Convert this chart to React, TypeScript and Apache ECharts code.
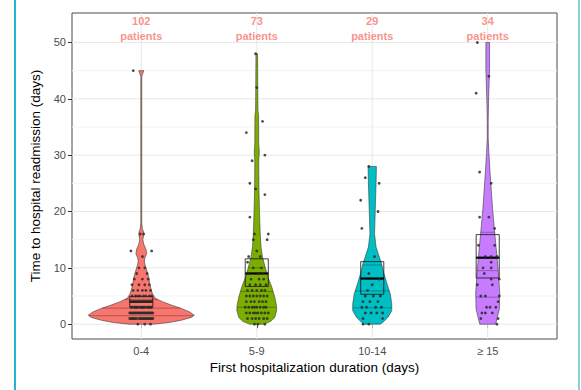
import React, { useEffect, useRef } from "react";
import * as echarts from "echarts";

const categories = ["0-4", "5-9", "10-14", "≥ 15"];
const patientCounts = [102, 73, 29, 34];
const yTicks = [0, 10, 20, 30, 40, 50];
const yMinorGrid = [5, 15, 25, 35, 45];
const fillColors = ["#F8766D", "#7CAE00", "#00BFC4", "#C77CFF"];

// violin half-width profiles: [days, half-width in category units]
const violin0_4 = [
  [0, 0.104], [0.3, 0.242], [0.7, 0.346], [1.2, 0.433], [1.6, 0.459], [2.2, 0.416],
  [2.8, 0.346], [3.4, 0.26], [4.0, 0.182], [4.6, 0.121], [5.5, 0.095], [7, 0.074],
  [8.3, 0.065], [9.5, 0.048], [10.5, 0.033], [11.2, 0.026], [11.8, 0.032], [12.5, 0.046],
  [13.2, 0.042], [14.2, 0.022], [15, 0.013], [15.7, 0.02], [16.3, 0.02], [17, 0.009],
  [18, 0.004], [44, 0.004], [44.5, 0.013], [45, 0.022],
];
const violin5_9 = [
  [0, 0.061], [0.5, 0.121], [1.2, 0.156], [2.5, 0.173], [3.5, 0.169], [4.8, 0.156],
  [6.6, 0.13], [8.3, 0.098], [10, 0.074], [12, 0.049], [13.7, 0.037], [16, 0.03],
  [19.6, 0.024], [23.7, 0.019], [29, 0.017], [30.5, 0.022], [32, 0.017], [37, 0.016],
  [38, 0.01], [48, 0.007],
];
const violin10_14 = [
  [0, 0.069], [0.35, 0.094], [1.25, 0.137], [2.4, 0.169], [3.6, 0.169], [5.4, 0.156],
  [7.2, 0.127], [9.0, 0.101], [10.7, 0.081], [12.5, 0.052], [13.7, 0.033], [16, 0.02],
  [20.2, 0.026], [24.9, 0.033], [28, 0.036],
];
const violin15 = [
  [0, 0.069], [1, 0.081], [2.7, 0.101], [5.7, 0.104], [8.7, 0.094], [11.6, 0.082],
  [14.6, 0.068], [17.5, 0.055], [20.5, 0.042], [23.4, 0.032], [26.4, 0.022], [30.5, 0.01],
  [33, 0.004], [36, 0.004], [39.4, 0.007], [45.4, 0.016], [50, 0.016],
];

// violin quartile lines (days)
const quartiles0_4 = [1.5, 2.85, 4.4];
const quartiles5_9 = [3.0, 5.8, 10.0];
const quartiles10_14 = [2.9, 5.9, 10.5];
const quartiles15 = [4.8, 9.5, 16.3];

// mean and 95% CI: [low, mean, high]
const meanCI0_4 = [3.1, 4.0, 4.9];
const meanCI5_9 = [6.7, 9.0, 11.6];
const meanCI10_14 = [5.3, 8.1, 11.1];
const meanCI15 = [8.2, 11.8, 15.9];

// individual patients: [horizontal jitter in hundredths of a category, days]
const points0_4 = [
  [-3, 0], [3, 0], [8, 0],
  [-10, 1], [-9, 1], [-7, 1], [-6, 1], [-5, 1], [-4, 1], [-2, 1], [-1, 1], [0, 1], [1, 1],
  [2, 1], [3, 1], [4, 1], [5, 1], [6, 1], [7, 1], [8, 1], [9, 1], [10, 1], [-8, 1],
  [-10, 2], [-9, 2], [-8, 2], [-7, 2], [-6, 2], [-5, 2], [-4, 2], [-3, 2], [-2, 2], [-1, 2],
  [0, 2], [1, 2], [2, 2], [3, 2], [4, 2], [5, 2], [6, 2], [7, 2], [8, 2], [9, 2], [10, 2],
  [-9, 3], [-8, 3], [-6, 3], [-5, 3], [-4, 3], [-3, 3], [-1, 3], [0, 3], [1, 3], [2, 3],
  [3, 3], [5, 3], [6, 3], [7, 3], [8, 3], [9, 3],
  [-9, 4], [-7, 4], [-5, 4], [-3, 4], [-1, 4], [0, 4], [2, 4], [3, 4], [5, 4], [6, 4], [8, 4], [9, 4],
  [-8, 5], [-5, 5], [-3, 5], [-1, 5], [2, 5], [4, 5], [7, 5], [9, 5],
  [-7, 6], [-3, 6], [1, 6], [4, 6], [8, 6],
  [-8, 7], [-2, 7], [3, 7], [7, 7],
  [-6, 8], [1, 8], [6, 8],
  [-4, 9], [5, 9],
  [-2, 10], [3, 10],
  [1, 12],
  [-9, 13], [9, 13],
  [-1, 16], [2, 16],
  [-7, 45],
];
const points5_9 = [
  [-2, 0], [1, 0], [7, 0],
  [-8, 1], [-4, 1], [-1, 1], [2, 1], [6, 1], [9, 1],
  [-9, 2], [-6, 2], [-3, 2], [-1, 2], [1, 2], [4, 2], [7, 2], [10, 2],
  [-10, 3], [-7, 3], [-4, 3], [-2, 3], [0, 3], [3, 3], [6, 3], [8, 3],
  [-9, 4], [-5, 4], [-2, 4], [2, 4], [5, 4], [8, 4],
  [-9, 5], [-6, 5], [-3, 5], [0, 5], [3, 5], [6, 5], [9, 5],
  [-8, 6], [-4, 6], [0, 6], [4, 6], [7, 6],
  [-6, 7], [-1, 7], [3, 7], [8, 7],
  [-5, 8], [2, 8], [6, 8],
  [-7, 9], [1, 9], [5, 9],
  [-3, 10], [4, 10],
  [-8, 11],
  [-7, 12], [3, 12],
  [0, 13],
  [-3, 15], [9, 15],
  [-2, 16], [10, 16],
  [-6, 19], [7, 23], [-1, 24], [-6, 25], [-4, 29], [7, 30], [-9, 34], [5, 36], [0, 42], [-1, 48],
];
const points10_14 = [
  [-8, 0], [-3, 0],
  [-8, 1], [9, 1],
  [-6, 2], [-1, 2], [4, 2], [9, 2],
  [-9, 3], [-5, 3], [3, 3], [8, 3],
  [-8, 4], [-2, 4], [5, 4],
  [-6, 5], [1, 5], [7, 5],
  [-4, 6], [0, 7], [6, 8], [-3, 9], [2, 12],
  [-9, 17], [5, 20], [-10, 22], [6, 25], [-6, 26], [-3, 28],
];
const points15 = [
  [8, 0],
  [-6, 1], [9, 1],
  [-5, 2], [-2, 2], [4, 2],
  [-1, 3], [2, 3], [7, 3],
  [9, 4],
  [-6, 5], [-2, 5], [10, 5],
  [-9, 7], [4, 7],
  [3, 8], [10, 8],
  [-3, 9],
  [-4, 10], [3, 10],
  [3, 11],
  [-2, 12], [3, 12], [8, 12],
  [-8, 14], [6, 14],
  [6, 17],
  [-7, 19], [1, 19],
  [3, 25], [-7, 27], [-10, 41], [1, 44], [-9, 50],
];

const profiles = [violin0_4, violin5_9, violin10_14, violin15];
const quartiles = [quartiles0_4, quartiles5_9, quartiles10_14, quartiles15];
const meanCIs = [meanCI0_4, meanCI5_9, meanCI10_14, meanCI15];
const pointGroups = [points0_4, points5_9, points10_14, points15];

const FONT = "'Liberation Sans', Arial, sans-serif";

function halfWidthAt(prof: number[][], v: number): number {
  for (let i = 0; i < prof.length - 1; i++) {
    const [v0, w0] = prof[i];
    const [v1, w1] = prof[i + 1];
    if (v >= v0 && v <= v1) return w0 + ((w1 - w0) * (v - v0)) / (v1 - v0);
  }
  return 0;
}

export default function App() {
  const ref = useRef<HTMLDivElement>(null);
  useEffect(() => {
    document.body.style.margin = "0";
    if (!ref.current) return;
    const chart = echarts.init(ref.current, undefined, { renderer: "svg" });

    const scatterData: number[][] = [];
    pointGroups.forEach((pts, g) => {
      pts.forEach(([j, d]) => scatterData.push([g + 1 + j / 100, d]));
    });

    const option: any = {
      animation: false,
      backgroundColor: "#ffffff",
      textStyle: { fontFamily: FONT },
      grid: {
        left: 72,
        right: 24,
        top: 13,
        bottom: 51,
        show: true,
        borderColor: "#4d4d4d",
        borderWidth: 1,
        backgroundColor: "transparent",
      },
      graphic: [
        { type: "rect", left: 14, top: 0, shape: { width: 2, height: 390 }, style: { fill: "#22B4D4" }, z: 10 },
        { type: "rect", left: 578, top: 0, shape: { width: 2, height: 390 }, style: { fill: "#82D4DC" }, z: 10 },
      ],
      xAxis: {
        type: "value",
        min: 0.4,
        max: 4.6,
        name: "First hospitalization duration (days)",
        nameLocation: "middle",
        nameGap: 20,
        nameTextStyle: { color: "#000", fontSize: 13.5, fontFamily: FONT },
        axisLine: { show: false },
        axisTick: { show: true, customValues: [1, 2, 3, 4], length: 4, lineStyle: { color: "#333" } },
        axisLabel: {
          customValues: [1, 2, 3, 4],
          formatter: (v: number) => categories[Math.round(v) - 1] ?? "",
          color: "#4d4d4d",
          fontSize: 11,
          margin: 6,
          fontFamily: FONT,
        },
        splitLine: { show: false },
      },
      yAxis: {
        type: "value",
        min: -2.63,
        max: 55.23,
        name: "Time to hospital readmission (days)",
        nameLocation: "middle",
        nameGap: 21,
        nameTextStyle: { color: "#000", fontSize: 13.5, fontFamily: FONT },
        axisLine: { show: false },
        axisTick: { show: true, customValues: yTicks, length: 4, lineStyle: { color: "#333" } },
        axisLabel: {
          customValues: yTicks,
          color: "#4d4d4d",
          fontSize: 11,
          margin: 6,
          fontFamily: FONT,
        },
        splitLine: { show: false },
      },
      series: [
        {
          type: "custom",
          z: 1,
          silent: true,
          data: [[2.5, 25]],
          renderItem: (params: any, api: any) => {
            const cs = params.coordSys;
            const children: any[] = [];
            yMinorGrid.forEach((v) => {
              const p = api.coord([1, v]);
              children.push({
                type: "line",
                shape: { x1: cs.x, y1: p[1], x2: cs.x + cs.width, y2: p[1] },
                style: { stroke: "#F3F3F3", lineWidth: 1 },
              });
            });
            yTicks.forEach((v) => {
              const p = api.coord([1, v]);
              children.push({
                type: "line",
                shape: { x1: cs.x, y1: p[1], x2: cs.x + cs.width, y2: p[1] },
                style: { stroke: "#E8E8E8", lineWidth: 1 },
              });
            });
            [1, 2, 3, 4].forEach((c) => {
              const p = api.coord([c, 0]);
              children.push({
                type: "line",
                shape: { x1: p[0], y1: cs.y, x2: p[0], y2: cs.y + cs.height },
                style: { stroke: "#E8E8E8", lineWidth: 1 },
              });
            });
            return { type: "group", children };
          },
        },
        {
          type: "custom",
          z: 2,
          silent: true,
          data: [[1, 0], [2, 0], [3, 0], [4, 0]],
          renderItem: (params: any, api: any) => {
            const cx = api.value(0) as number;
            const g = Math.round(cx) - 1;
            const prof = profiles[g];
            const pts: number[][] = [];
            prof.forEach(([v, w]) => pts.push(api.coord([cx + w, v])));
            for (let i = prof.length - 1; i >= 0; i--) pts.push(api.coord([cx - prof[i][1], prof[i][0]]));
            const children: any[] = [
              {
                type: "polygon",
                shape: { points: pts },
                style: { fill: fillColors[g], stroke: "#3a3a3a", lineWidth: 0.6 },
              },
            ];
            quartiles[g].forEach((q) => {
              const w = halfWidthAt(prof, q);
              const a = api.coord([cx - w, q]);
              const b = api.coord([cx + w, q]);
              children.push({
                type: "line",
                shape: { x1: a[0], y1: a[1], x2: b[0], y2: b[1] },
                style: { stroke: "rgba(0,0,0,0.4)", lineWidth: 0.7 },
              });
            });
            const [lo, mean, hi] = meanCIs[g];
            const bh = 0.1;
            const tl = api.coord([cx - bh, hi]);
            const br = api.coord([cx + bh, lo]);
            children.push({
              type: "rect",
              shape: { x: tl[0], y: tl[1], width: br[0] - tl[0], height: br[1] - tl[1] },
              style: { fill: "none", stroke: "#111", lineWidth: 0.8 },
            });
            const m1 = api.coord([cx - bh, mean]);
            const m2 = api.coord([cx + bh, mean]);
            children.push({
              type: "line",
              shape: { x1: m1[0], y1: m1[1], x2: m2[0], y2: m2[1] },
              style: { stroke: "#000", lineWidth: 2.2 },
            });
            return { type: "group", children };
          },
        },
        {
          type: "scatter",
          z: 3,
          silent: true,
          symbol: "circle",
          symbolSize: 2.8,
          itemStyle: { color: "#2a2a2a", opacity: 0.85 },
          data: scatterData,
        },
        {
          type: "scatter",
          z: 4,
          silent: true,
          symbolSize: 0,
          data: patientCounts.map((n, i) => [i + 1, 52.4, n]),
          label: {
            show: true,
            position: "inside",
            formatter: (p: any) => `${p.value[2]}\npatients`,
            color: "#F8766D",
            fontWeight: "bold",
            fontSize: 11,
            lineHeight: 15,
            fontFamily: FONT,
          },
        },
      ],
    };
    chart.setOption(option);
    return () => chart.dispose();
  }, []);
  return <div ref={ref} style={{ width: 581, height: 390 }} />;
}
